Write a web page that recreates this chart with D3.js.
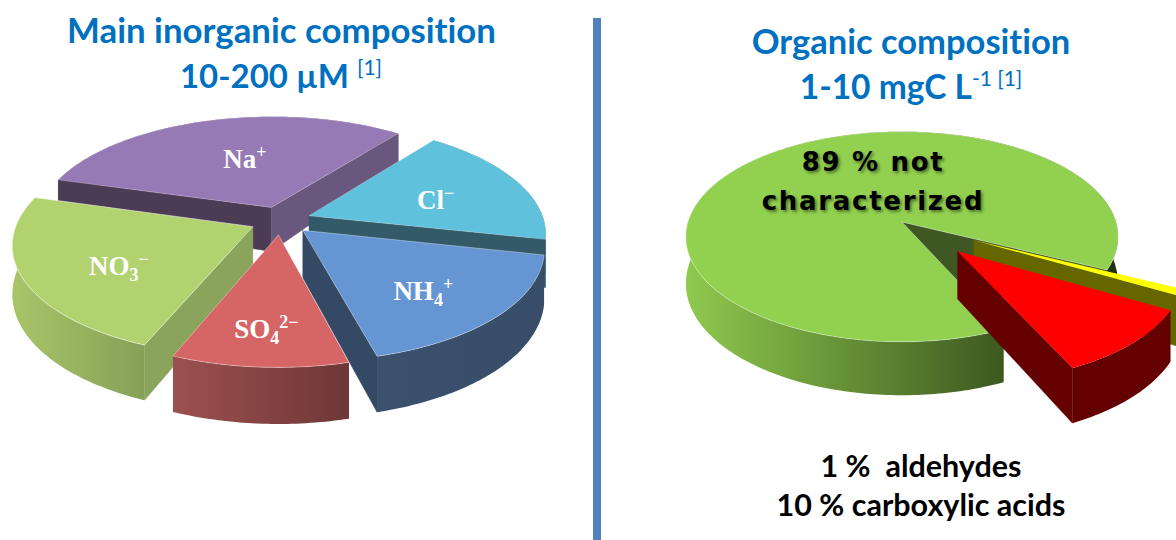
<!DOCTYPE html>
<html>
<head>
<meta charset="utf-8">
<script src="https://cdn.jsdelivr.net/npm/d3@7"></script>
<style>
    html, body { margin: 0; padding: 0; background: #fff; }
    svg { display: block; }
    .title { font-family: Lato, sans-serif; font-weight: 700; fill: #0070c0; text-anchor: middle; font-variant-ligatures: none; }
    .ion { font-family: "Liberation Serif", serif; font-weight: 700; fill: #fff; text-anchor: middle; }
    .note { font-family: Lato, sans-serif; font-weight: 700; fill: #000; text-anchor: middle; }
    .big { font-family: "DejaVu Sans", sans-serif; font-weight: 700; fill: #000; text-anchor: middle;
           letter-spacing: 1.7px; text-shadow: 2px 2px 3px rgba(40, 60, 15, 0.6); }
</style>
</head>
<body>
<svg id="chart" width="1176" height="540"></svg>
<script>
// inorganic pie, clockwise from its start angle
var ionNames = ['Na', 'Cl', 'NH', 'SO', 'NO'];
var ionValues = [31, 18, 17.5, 10.2, 23.3];
var ionSub = ['', '', '4', '4', '3'];
var ionSup = ['+', '\u2212', '+', '2\u2212', '\u2212'];

// organic pie
var orgNames = ['not characterized', 'aldehydes', 'carboxylic acids'];
var orgValues = [89, 1, 10];
var notes = ['1 %  aldehydes', '10 % carboxylic acids'];

var svg = d3.select('#chart');
var defs = svg.append('defs');
var gradId = 0;

function rad(deg) {
    return deg * Math.PI / 180;
}

function drawPie(opts) {
    var pie = d3.pie().sort(null)
        .startAngle(rad(opts.start))
        .endAngle(rad(opts.start + 360));
    var slices = pie(opts.values);

    var line = d3.line().x(d => d[0]).y(d => d[1]);

    function project(slice, angle, r, z) {
        var mid = (slice.startAngle + slice.endAngle) / 2;
        var e = opts.explode[slice.index];
        var X = r * Math.sin(angle) + e * Math.sin(mid);
        var Y = r * Math.cos(angle) + e * Math.cos(mid);
        var s = 1 / (1 + opts.k * Y);
        // the far side of the picture loses thickness faster than it loses width
        var thick = Y > 0 ? Math.pow(s, 3.5) : s;
        return [opts.cx + opts.rx * X * s, opts.cy - opts.ry * Y * s + opts.depth * z * thick];
    }

    function arcPoints(slice, z) {
        var n = Math.ceil((slice.endAngle - slice.startAngle) / rad(1));
        return d3.range(n + 1).map(i => {
            var a = slice.startAngle + (slice.endAngle - slice.startAngle) * i / n;
            return project(slice, a, 1, z);
        });
    }

    // far slices first so the near ones paint over them
    var order = opts.order.map(i => slices[i]);

    var group = svg.append('g');
    order.forEach(slice => {
        var c = opts.colors[slice.index];
        var g = group.append('g');
        var apexTop = project(slice, 0, 0, 0);
        var apexBottom = project(slice, 0, 0, 1);
        var top = arcPoints(slice, 0);
        var bottom = arcPoints(slice, 1);

        var xs = d3.extent(top, d => d[0]);
        var id = 'wall' + (gradId++);
        var grad = defs.append('linearGradient')
            .attr('id', id)
            .attr('gradientUnits', 'userSpaceOnUse')
            .attr('x1', xs[0]).attr('x2', xs[1])
            .attr('y1', 0).attr('y2', 0);
        grad.append('stop').attr('offset', 0).attr('stop-color', c.wallA);
        grad.append('stop').attr('offset', 1).attr('stop-color', c.wallB);

        g.append('path')
            .attr('d', line(top.concat(bottom.slice().reverse())) + 'Z')
            .attr('fill', 'url(#' + id + ')');

        // only the cut faces turned to the viewer have a colour
        [[slice.startAngle, c.startFace], [slice.endAngle, c.endFace]].forEach(face => {
            if (!face[1]) return;
            g.append('path')
                .attr('d', line([apexTop, project(slice, face[0], 1, 0), project(slice, face[0], 1, 1), apexBottom]) + 'Z')
                .attr('fill', face[1])
                .attr('stroke', face[1])
                .attr('stroke-width', 0.5);
        });

        g.append('path')
            .attr('d', line([apexTop].concat(top)) + 'Z')
            .attr('fill', c.top)
            .attr('stroke', c.edge)
            .attr('stroke-width', 1)
            .attr('stroke-linejoin', 'round');
    });

    return project;
}

var ionProject = drawPie({
    values: ionValues,
    start: 286, cx: 280.5, cy: 220.5, rx: 235, ry: 108, k: 0.15, depth: 47,
    explode: [0.13, 0.13, 0.13, 0.13, 0.13],
    order: [0, 1, 2, 4, 3],
    colors: [
        {top: '#967ab5', startFace: '#4c3b55', endFace: '#6a577d', wallA: '#6a577d', wallB: '#6a577d', edge: 'rgba(255,255,255,0.25)'},
        {top: '#5fc1dc', startFace: null, endFace: '#335a68', wallA: '#335a68', wallB: '#335a68', edge: 'rgba(255,255,255,0.25)'},
        {top: '#6595d3', startFace: null, endFace: '#344a64', wallA: '#3a506c', wallB: '#384d68', edge: 'rgba(255,255,255,0.35)'},
        {top: '#d66666', startFace: null, endFace: null, wallA: '#9d5050', wallB: '#6e3735', edge: 'rgba(255,255,255,0.35)'},
        {top: '#b2d26f', startFace: '#8ba45b', endFace: null, wallA: '#a9c568', wallB: '#87a058', edge: 'rgba(255,255,255,0.5)'}
    ]
});

var orgProject = drawPie({
    values: orgValues,
    start: 155.5, cx: 902, cy: 222, rx: 214, ry: 103, k: 0.14, depth: 46,
    explode: [0, 0.37, 0.37],
    order: [0, 1, 2],
    colors: [
        {top: '#92d050', startFace: null, endFace: '#3f5723', wallA: '#8fc94e', wallB: '#1f300f', edge: 'rgba(255,255,255,0.35)'},
        {top: '#ffff00', startFace: null, endFace: '#666600', wallA: '#666600', wallB: '#666600', edge: 'none'},
        {top: '#ff0000', startFace: null, endFace: '#640000', wallA: '#640000', wallB: '#640000', edge: 'none'}
    ]
});

// divider
svg.append('rect')
    .attr('x', 593).attr('y', 18)
    .attr('width', 8).attr('height', 522)
    .attr('fill', '#4f81bd');

// titles
function title(x, y, size, parts) {
    var t = svg.append('text').attr('class', 'title').attr('x', x).attr('y', y).style('font-size', size + 'px');
    parts.forEach(p => {
        var s = t.append('tspan').text(p.text);
        if (p.dy) s.attr('dy', p.dy);
        if (p.size) s.style('font-size', p.size + 'px');
        if (p.thin) s.style('font-weight', 400);
    });
}

title(281.5, 43, 34.8, [{text: 'Main inorganic composition'}]);
title(281, 88, 33, [{text: '10-200 \u00b5M '}, {text: '[1]', dy: -13, size: 21, thin: true}]);
title(911, 54, 34.5, [{text: 'Organic composition'}]);
title(911, 99, 33.5, [{text: '1-10 mgC L'}, {text: '-1 ', dy: -13, size: 21, thin: true}, {text: '[1]', size: 21, thin: true}]);

// ion labels, placed along each slice's middle angle
var labelRadius = [0.52, 0.56, 0.6, 0.72, 0.62];
var labelDx = [8, 8, 9, 1, 5];
var labelDy = [0, 4, 11, 4, 8];
var ionPie = d3.pie().sort(null).startAngle(rad(286)).endAngle(rad(646))(ionValues);

ionPie.forEach((slice, i) => {
    var mid = (slice.startAngle + slice.endAngle) / 2;
    var p = ionProject(slice, mid, labelRadius[i], 0);
    var t = svg.append('text')
        .attr('class', 'ion')
        .attr('x', p[0] + labelDx[i]).attr('y', p[1] + 9 + labelDy[i])
        .style('font-size', '27px');
    t.append('tspan').text(ionNames[i]);
    if (ionSub[i]) t.append('tspan').attr('dy', 6).style('font-size', '18px').text(ionSub[i]);
    t.append('tspan').attr('dy', ionSub[i] ? -16 : -10).style('font-size', '18px').text(ionSup[i]);
});

// organic labels
svg.append('text').attr('class', 'big').attr('x', 873).attr('y', 171).style('font-size', '26px').text('89 % not');
svg.append('text').attr('class', 'big').attr('x', 873).attr('y', 210).style('font-size', '26px').text('characterized');

notes.forEach((n, i) => {
    svg.append('text').attr('class', 'note')
        .attr('x', 921).attr('y', 477 + i * 39)
        .style('font-size', '30.5px')
        .style('white-space', 'pre')
        .text(n);
});
</script>
</body>
</html>
